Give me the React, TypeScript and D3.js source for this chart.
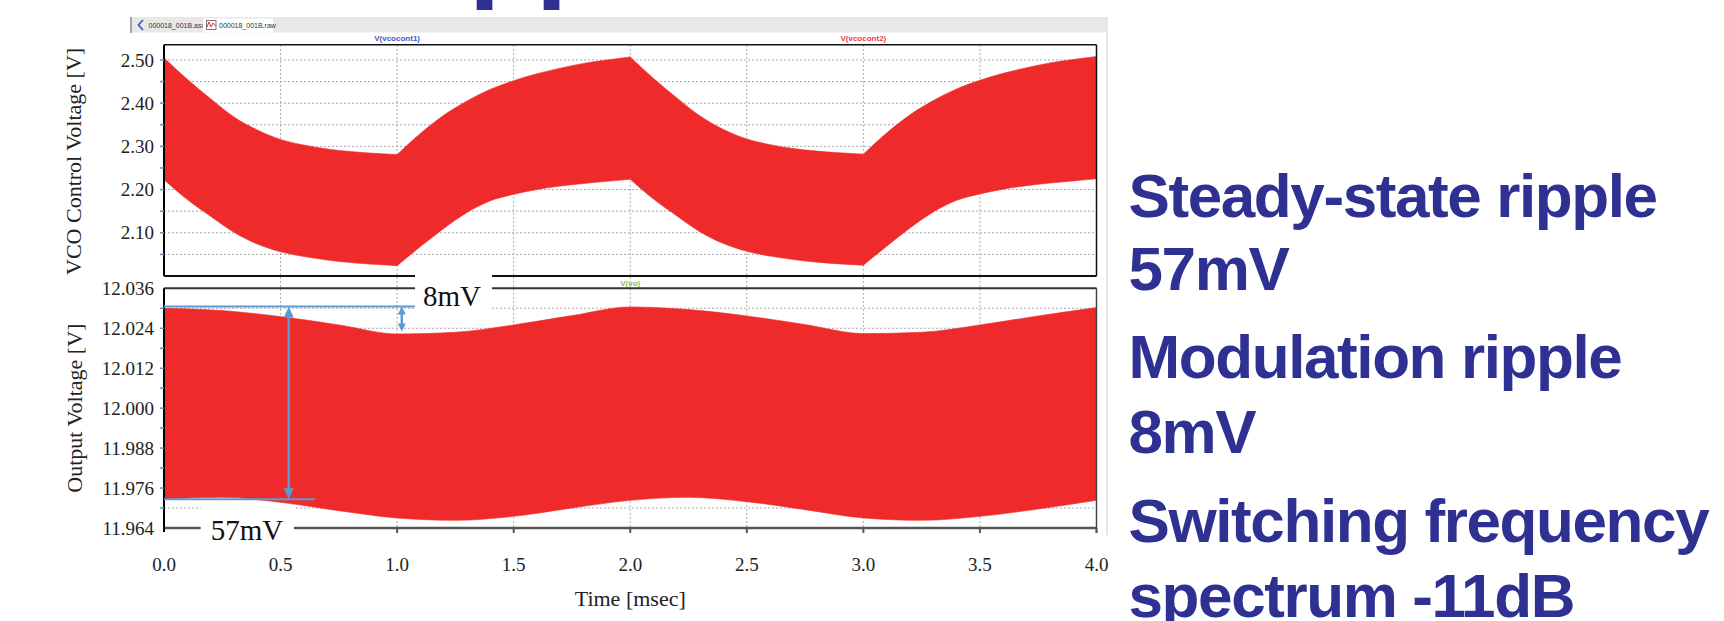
import React from 'react';
import * as d3 from 'd3';

const timeTicks = [0.0, 0.5, 1.0, 1.5, 2.0, 2.5, 3.0, 3.5, 4.0];

// VCO control voltage envelope (top pane), every 0.1 ms
const vcoTime = [0.0, 0.1, 0.2, 0.3, 0.4, 0.5, 0.6, 0.7, 0.8, 0.9, 1.0, 1.1, 1.2, 1.3, 1.4, 1.5, 1.6, 1.7, 1.8, 1.9, 2.0,
  2.1, 2.2, 2.3, 2.4, 2.5, 2.6, 2.7, 2.8, 2.9, 3.0, 3.1, 3.2, 3.3, 3.4, 3.5, 3.6, 3.7, 3.8, 3.9, 4.0];
const vcoUpper = [2.505, 2.455, 2.410, 2.368, 2.338, 2.316, 2.303, 2.294, 2.288, 2.284, 2.281,
  2.330, 2.372, 2.405, 2.432, 2.452, 2.468, 2.481, 2.492, 2.500, 2.507,
  2.457, 2.412, 2.370, 2.339, 2.317, 2.304, 2.295, 2.289, 2.285, 2.282,
  2.331, 2.373, 2.406, 2.433, 2.453, 2.469, 2.482, 2.493, 2.501, 2.508];
const vcoLower = [2.223, 2.177, 2.138, 2.101, 2.074, 2.056, 2.045, 2.037, 2.031, 2.027, 2.024,
  2.068, 2.110, 2.147, 2.174, 2.189, 2.200, 2.208, 2.214, 2.219, 2.224,
  2.178, 2.139, 2.102, 2.075, 2.057, 2.046, 2.038, 2.032, 2.028, 2.025,
  2.069, 2.111, 2.148, 2.175, 2.190, 2.201, 2.209, 2.215, 2.220, 2.225];
// the modulation waveform turns around here (sharp corners)
const vcoBreaks = [0.0, 1.0, 2.0, 3.0, 4.0];

// output voltage envelope (bottom pane)
const voTime = [0.0, 0.25, 0.5, 0.75, 1.0, 1.25, 1.5, 1.75, 2.0, 2.25, 2.5, 2.75, 3.0, 3.25, 3.5, 3.75, 4.0];
const voUpper = [12.0300, 12.0293, 12.0275, 12.0250, 12.0223, 12.0228, 12.0250, 12.0278, 12.0304,
  12.0296, 12.0277, 12.0251, 12.0224, 12.0228, 12.0250, 12.0277, 12.0302];
const voLower = [11.9726, 11.9732, 11.9717, 11.9692, 11.9670, 11.9663, 11.9675, 11.9700, 11.9723,
  11.9732, 11.9719, 11.9695, 11.9670, 11.9663, 11.9675, 11.9697, 11.9723];

const vcoGrid = [2.05, 2.10, 2.15, 2.20, 2.25, 2.30, 2.35, 2.40, 2.45, 2.50];
const vcoLabels = [2.10, 2.20, 2.30, 2.40, 2.50];
const voGrid = [11.970, 11.976, 11.982, 11.988, 11.994, 12.000, 12.006, 12.012, 12.018, 12.024, 12.030];
const voLabels = [11.964, 11.976, 11.988, 12.000, 12.012, 12.024, 12.036];

// annotations
const steadyTop = 12.0305;
const steadyBottom = 11.9726;
const steadyAt = 0.535;
const modBottom = 12.023;
const modAt = 1.02;

const summaryLines = ['Steady-state ripple', '57mV', 'Modulation ripple', '8mV', 'Switching frequency', 'spectrum -11dB'];

// ---- layout ----
const W = 1724, H = 621;
const X0 = 164, X1 = 1096.5;
const TOP_T = 44.8, TOP_B = 276;
const BOT_T = 288.3, BOT_B = 528;
const RED = '#EE2A2A';
const BLUE = '#5B9BD5';
const NAVY = '#2E3192';
const SERIF = '"Liberation Serif", "Times New Roman", serif';
const SANS = '"Liberation Sans", Arial, Helvetica, sans-serif';
const summaryY = [216.7, 290, 378.3, 453.3, 541.7, 616.7];

const Arrow = ({ x, y1, y2, hw, hl }: { x: number; y1: number; y2: number; hw: number; hl: number }) => (
  <g fill={BLUE} stroke="none">
    <line x1={x} x2={x} y1={y1 + hl - 1} y2={y2 - hl + 1} stroke={BLUE} strokeWidth={2.5} />
    <polygon points={`${x},${y1} ${x - hw / 2},${y1 + hl} ${x + hw / 2},${y1 + hl}`} />
    <polygon points={`${x},${y2} ${x - hw / 2},${y2 - hl} ${x + hw / 2},${y2 - hl}`} />
  </g>
);

export default function App() {
  const x = d3.scaleLinear().domain([0, 4]).range([X0, X1]);
  const yVco = d3.scaleLinear().domain([2.0, 2.535]).range([TOP_B, TOP_T]);
  const yVo = d3.scaleLinear().domain([11.964, 12.036]).range([BOT_B, BOT_T]);

  const vcoArea = d3.area<number>()
    .x(i => x(vcoTime[i]))
    .y0(i => yVco(vcoLower[i]))
    .y1(i => yVco(vcoUpper[i]))
    .curve(d3.curveMonotoneX);
  const vcoSegments = vcoBreaks.slice(0, -1).map((b, k) =>
    vcoTime.map((t, i) => i).filter(i => vcoTime[i] >= b - 1e-9 && vcoTime[i] <= vcoBreaks[k + 1] + 1e-9));

  const voArea = d3.area<number>()
    .x(i => x(voTime[i]))
    .y0(i => yVo(voLower[i]))
    .y1(i => yVo(voUpper[i]))
    .curve(d3.curveMonotoneX);

  const gridStyle = { stroke: '#A8A8A8', strokeWidth: 1, strokeDasharray: '2,2' };

  return (
    <svg width={W} height={H} style={{ position: 'absolute', left: 0, top: 0, background: '#fff' }}>
      {/* slide title, mostly cut off by the top edge */}
      <text x={360} y={-14} fontFamily={SANS} fontWeight="bold" fontSize={114} letterSpacing={-2.6} fill={NAVY}>Ripple</text>

      {/* LTspice tab bar */}
      <rect x={131} y={17} width={976} height={15.5} fill="#E8E8E8" />
      <line x1={131} x2={131} y1={17} y2={33} stroke="#8A8A8A" strokeWidth={1.5} />
      <path d="M143,20 L138.5,25 L143,30" fill="none" stroke="#3A63C6" strokeWidth={1.8} />
      <text x={148.5} y={28} fontFamily={SANS} fontSize={7} fill="#333">000018_001B.asc</text>
      <rect x={203} y={18.5} width={70} height={14} fill="#fff" />
      <rect x={206.5} y={20.5} width={9.5} height={9} fill="#fff" stroke="#555" strokeWidth={0.8} />
      <path d="M207,27 L209,22 L211,27 L213,23 L215.5,26" fill="none" stroke="#D33" strokeWidth={1} />
      <text x={219} y={28} fontFamily={SANS} fontSize={7} fill="#333">000018_001B.raw</text>
      <line x1={1107} x2={1107} y1={17} y2={535} stroke="#E6E6E6" strokeWidth={2} />

      {/* trace names */}
      <text x={x(1.0)} y={41} textAnchor="middle" fontFamily={SANS} fontWeight="bold" fontSize={8} fill="#3B5BC8">V(vcocont1)</text>
      <text x={x(3.0)} y={41} textAnchor="middle" fontFamily={SANS} fontWeight="bold" fontSize={8} fill="#EE3B3B">V(vcocont2)</text>
      <text x={x(2.0)} y={286} textAnchor="middle" fontFamily={SANS} fontWeight="bold" fontSize={8} fill="#7DC15A">V(vo)</text>

      {/* grid */}
      {timeTicks.slice(1, -1).map(t => (
        <line key={'vg' + t} x1={x(t)} x2={x(t)} y1={TOP_T} y2={BOT_B} {...gridStyle} />
      ))}
      {vcoGrid.map(v => (
        <line key={'hg' + v} x1={X0} x2={X1} y1={yVco(v)} y2={yVco(v)} {...gridStyle} />
      ))}
      {voGrid.map(v => (
        <line key={'og' + v} x1={X0} x2={X1} y1={yVo(v)} y2={yVo(v)} {...gridStyle} />
      ))}

      {/* envelopes */}
      {vcoSegments.map((seg, k) => (
        <path key={'vco' + k} d={vcoArea(seg) || ''} fill={RED} stroke={RED} strokeWidth={0.6} />
      ))}
      <path d={voArea(voTime.map((t, i) => i)) || ''} fill={RED} stroke={RED} strokeWidth={0.6} />

      {/* frames */}
      <line x1={X0} x2={X1} y1={TOP_T} y2={TOP_T} stroke="#111" strokeWidth={1.5} />
      <line x1={X1} x2={X1} y1={TOP_T} y2={TOP_B} stroke="#111" strokeWidth={1.5} />
      <line x1={X0} x2={X1} y1={TOP_B} y2={TOP_B} stroke="#111" strokeWidth={2} />
      <line x1={X0} x2={X1} y1={BOT_T} y2={BOT_T} stroke="#333" strokeWidth={2} />
      <line x1={X1} x2={X1} y1={BOT_T} y2={BOT_B + 5} stroke="#444" strokeWidth={1.5} />
      <line x1={X0} x2={X1} y1={BOT_B} y2={BOT_B} stroke="#555" strokeWidth={2.5} />
      <line x1={X0} x2={X0} y1={TOP_T} y2={TOP_B} stroke="#000" strokeWidth={2} />
      <line x1={X0} x2={X0} y1={BOT_T} y2={BOT_B + 4} stroke="#000" strokeWidth={2} />
      {timeTicks.slice(1).map(t => (
        <line key={'xt' + t} x1={x(t)} x2={x(t)} y1={BOT_B} y2={BOT_B + 5} stroke="#555" strokeWidth={2} />
      ))}

      {/* y ticks */}
      {vcoGrid.concat([2.55]).filter(v => yVco(v) >= TOP_T).map(v => (
        <line key={'vt' + v} x1={X0 - 4} x2={X0} y1={yVco(v)} y2={yVco(v)} stroke="#6A8CC0" strokeWidth={1.5} />
      ))}
      {voGrid.map(v => (
        <line key={'ot' + v} x1={X0 - 4} x2={X0} y1={yVo(v)} y2={yVo(v)} stroke="#6A8CC0" strokeWidth={1.5} />
      ))}
      {vcoLabels.map(v => (
        <text key={'vl' + v} x={154} y={yVco(v)} dy="0.35em" textAnchor="end" fontFamily={SERIF} fontSize={19} fill="#222">{d3.format('.2f')(v)}</text>
      ))}
      {voLabels.map(v => (
        <text key={'ol' + v} x={154} y={yVo(v)} dy="0.35em" textAnchor="end" fontFamily={SERIF} fontSize={19} fill="#222">{d3.format('.3f')(v)}</text>
      ))}
      {timeTicks.map(t => (
        <text key={'xl' + t} x={x(t)} y={571} textAnchor="middle" fontFamily={SERIF} fontSize={19} fill="#222">{d3.format('.1f')(t)}</text>
      ))}

      {/* axis titles */}
      <text transform={`translate(80.5,${(TOP_T + TOP_B) / 2 + 1}) rotate(-90)`} textAnchor="middle" fontFamily={SERIF} fontSize={22} fill="#222">VCO Control Voltage [V]</text>
      <text transform={`translate(81.5,${(BOT_T + BOT_B) / 2 + 0}) rotate(-90)`} textAnchor="middle" fontFamily={SERIF} fontSize={22} fill="#222">Output Voltage [V]</text>
      <text x={x(2.0)} y={606} textAnchor="middle" fontFamily={SERIF} fontSize={22} fill="#222">Time [msec]</text>

      {/* 8mV modulation ripple */}
      <rect x={415} y={268} width={77} height={45} fill="#fff" />
      <line x1={X0} x2={x(1.076)} y1={yVo(steadyTop)} y2={yVo(steadyTop)} stroke={BLUE} strokeWidth={2} />
      <Arrow x={x(modAt)} y1={yVo(steadyTop)} y2={yVo(modBottom)} hw={8} hl={8} />
      <text x={423} y={306} fontFamily={SERIF} fontSize={29} fill="#111">8mV</text>

      {/* 57mV steady-state ripple */}
      <rect x={200.7} y={505} width={93.3} height={42} fill="#fff" />
      <line x1={X0} x2={x(0.649)} y1={yVo(steadyBottom)} y2={yVo(steadyBottom)} stroke={BLUE} strokeWidth={2} />
      <Arrow x={x(steadyAt)} y1={yVo(steadyTop)} y2={yVo(steadyBottom)} hw={10} hl={11} />
      <text x={210.7} y={540} fontFamily={SERIF} fontSize={29} fill="#111">57mV</text>

      {/* summary */}
      {summaryLines.map((s, i) => (
        <text key={s} x={1128.5} y={summaryY[i]} fontFamily={SANS} fontWeight="bold" fontSize={62} letterSpacing={-1.4} fill={NAVY}>{s}</text>
      ))}
    </svg>
  );
}
